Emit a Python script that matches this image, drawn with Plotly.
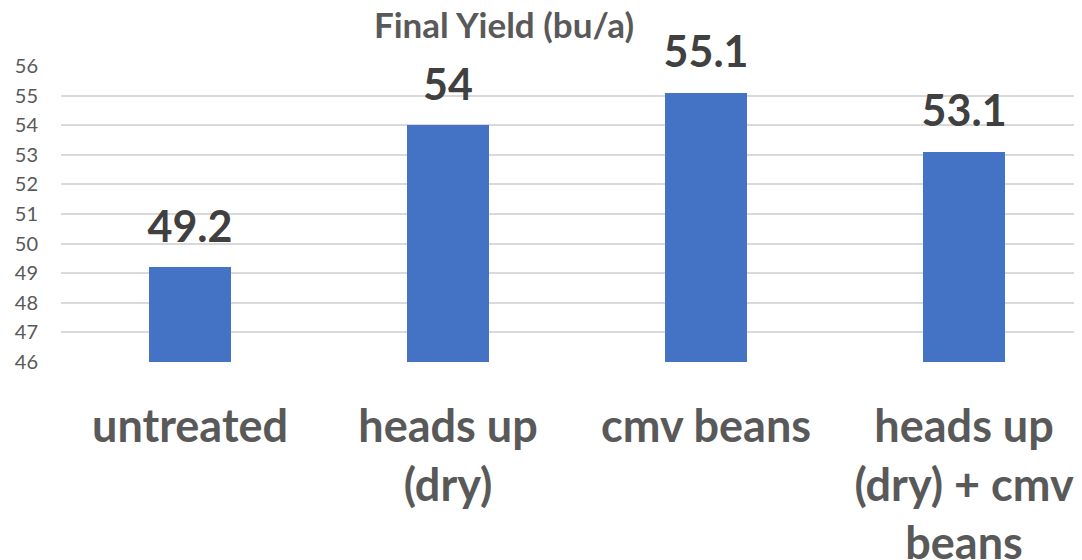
import plotly.graph_objects as go

categories = ["untreated", "heads up<br>(dry)", "cmv beans", "heads up<br>(dry) + cmv<br>beans"]
values = [49.2, 54, 55.1, 53.1]
value_labels = ["49.2", "54", "55.1", "53.1"]
y_ticks = list(range(46, 57))

FONT = "Lato"
W, H = 1074, 552  # page body offsets the figure by 8px

fig = go.Figure()
fig.add_trace(go.Bar(
    x=list(range(len(categories))), y=values, width=0.318,
    marker=dict(color="#4472C4", line=dict(width=0)),
    hoverinfo="skip", showlegend=False,
))
fig.add_trace(go.Scatter(
    x=list(range(len(categories))), y=values, mode="markers+text",
    text=value_labels, textposition="top center",
    marker=dict(size=22, opacity=0),
    textfont=dict(family=FONT, size=43, color="#404040", weight="bold"),
    hoverinfo="skip", showlegend=False, cliponaxis=False,
))

fig.update_layout(
    width=W, height=H,
    margin=dict(l=53, r=0, t=58, b=198, autoexpand=False),
    paper_bgcolor="white", plot_bgcolor="white",
    title=dict(text="<b>Final Yield (bu/a)</b>", x=496 / W, xanchor="center",
               y=1 - 18 / H, yanchor="middle",
               font=dict(family=FONT, size=35, color="#595959")),
    bargap=0,
)
fig.update_xaxes(
    range=[-0.5, 3.457], tickmode="array",
    tickvals=list(range(len(categories))), ticktext=categories,
    tickfont=dict(family=FONT, size=45, color="#595959", weight="bold"),
    showgrid=False, zeroline=False, showline=False, ticks="",
    ticklabelstandoff=34, automargin=False,
)
fig.update_yaxes(
    range=[46, 56], tickmode="array", tickvals=y_ticks,
    ticktext=[str(t) for t in y_ticks],
    tickfont=dict(family=FONT, size=20, color="#595959"),
    showgrid=True, gridcolor="#d9d9d9", gridwidth=1.5,
    zeroline=False, showline=False, ticks="", ticklabelstandoff=22,
    automargin=False,
)

fig.write_html("out.html")
